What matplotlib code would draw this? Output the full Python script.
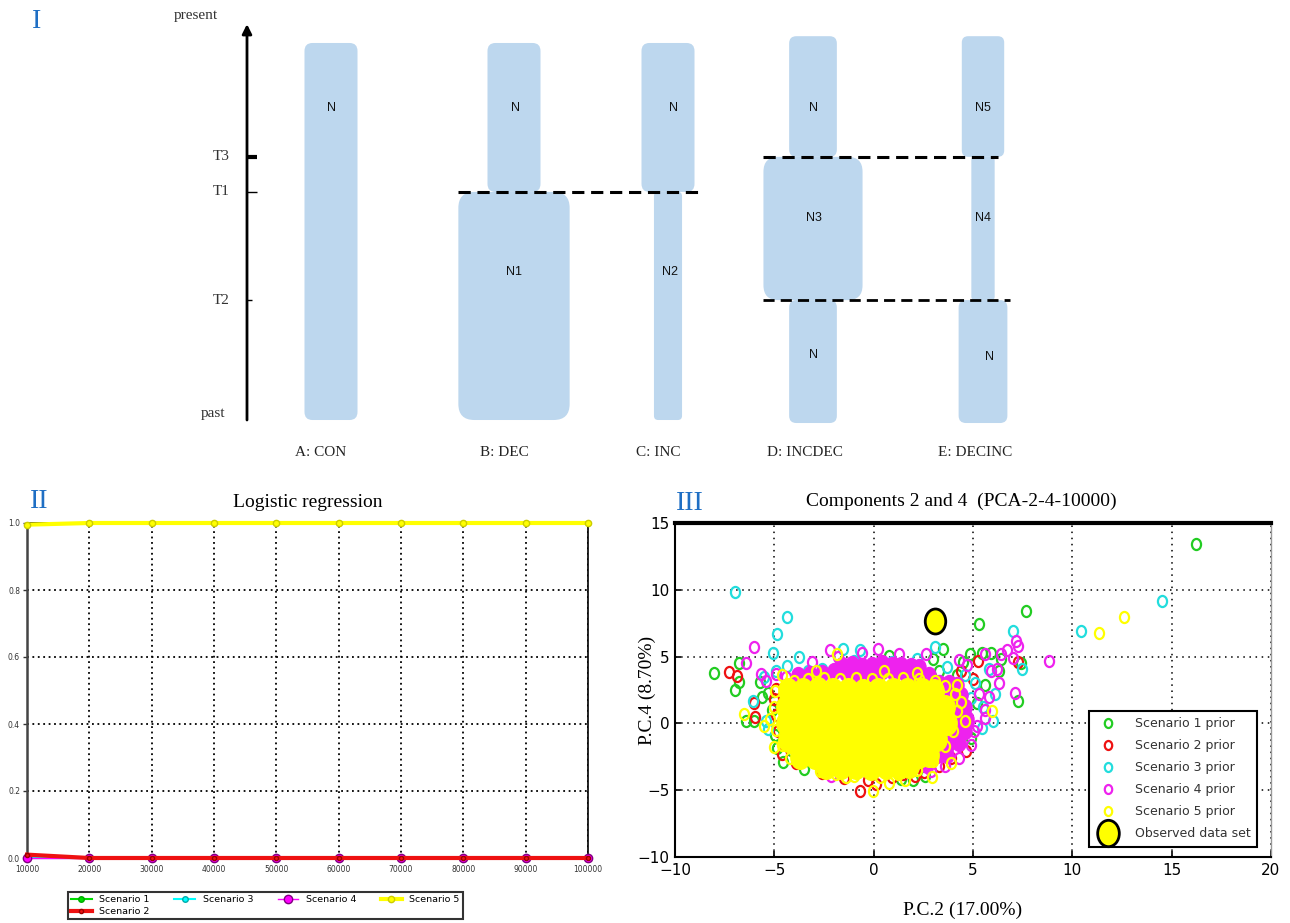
import matplotlib
matplotlib.use('Agg')
import matplotlib.pyplot as plt
from matplotlib.patches import FancyBboxPatch
from matplotlib.path import Path
from matplotlib.transforms import Affine2D
from matplotlib.lines import Line2D

plt.rcParams['font.family'] = ['DejaVu Sans']
SERIF = ['Liberation Serif', 'DejaVu Serif']
ROMAN_BLUE = '#1f6fc4'
BAR_BLUE = '#bdd7ee'

# ---------------- Panel I data (demographic scenarios) ----------------
time_names = ['past', 'T2', 'T1', 'T3', 'present']
time_values = [0.0, 0.318, 0.605, 0.698, 1.0]
scenario_names = ['A: CON', 'B: DEC', 'C: INC', 'D: INCDEC', 'E: DECINC']
seg_bounds = [[0.0, 1.0],
              [0.0, 0.605, 1.0],
              [0.0, 0.605, 1.0],
              [-0.008, 0.318, 0.698, 1.018],
              [-0.008, 0.318, 0.698, 1.018]]
seg_sizes = [[1.0],
             [2.1, 1.0],
             [0.53, 1.0],
             [0.9, 1.87, 0.9],
             [0.92, 0.44, 0.8]]
seg_labels = [['N'],
              ['N1', 'N'],
              ['N2', 'N'],
              ['N', 'N3', 'N'],
              ['N', 'N4', 'N5']]

# ---------------- Panel II data (logistic regression) ----------------
lr_x = [10000, 20000, 30000, 40000, 50000, 60000, 70000, 80000, 90000, 100000]
lr_s1 = [0.0, 0.0, 0.0, 0.0, 0.0, 0.0, 0.0, 0.0, 0.0, 0.0]
lr_s2 = [0.01, 0.0, 0.0, 0.0, 0.0, 0.0, 0.0, 0.0, 0.0, 0.0]
lr_s3 = [0.0, 0.0, 0.0, 0.0, 0.0, 0.0, 0.0, 0.0, 0.0, 0.0]
lr_s4 = [0.0, 0.0, 0.0, 0.0, 0.0, 0.0, 0.0, 0.0, 0.0, 0.0]
lr_s5 = [0.995, 1.0, 1.0, 1.0, 1.0, 1.0, 1.0, 1.0, 1.0, 1.0]
lr_ticks = ['10000', '20000', '30000', '40000', '50000', '60000', '70000', '80000', '90000', '100000']

# ---------------- Panel III data (PCA, components 2 and 4) ----------------
s1_x = [16.2, 7.67, 5.3, -8.06, -7.0, -6.8, -6.76, -6.45, -6.03, -4.56, 7.25, 2.0, 1.4, 4.9, 4.84,
        5.47, 5.9, 6.3, 7.4, 3.5, -4.88, -4.15, -5.7, 0.77, -5.3, -5.1, -4.95, 4.5, 5.6, 6.4, 3.0,
        4.2, 2.6, -3.5, -5.6, 5.2, 3.3]
s1_y = [13.4, 8.4, 7.44, 3.74, 2.5, 3.1, 4.5, 0.19, 0.19, -2.9, 1.69, -4.24, -4.14, -1.07, 5.19,
        5.3, 5.3, 3.94, 4.5, 5.56, -1.82, -2.0, 3.1, 5.07, 2.3, 1.0, -0.9, 4.6, 2.9, 4.8, 4.8,
        3.6, -3.9, -3.4, 2.0, 1.5, 3.9]
s2_x = [-7.28, -6.86, -6.03, -5.96, -0.70, 0.14, 5.26, 4.63, 7.25, -4.35, -3.2, 1.5, 2.54, -4.9,
        -4.8, -4.6, -3.9, -2.6, -1.5, -0.3, 0.9, 2.1, 3.3, 3.9, -5.0, -4.9, 5.0, 4.4]
s2_y = [3.86, 3.56, 1.56, 0.49, -5.07, -4.57, 4.69, -2.07, 4.56, -1.57, -2.69, -3.82, -3.64, 0.6,
        -0.6, -2.3, -3.0, -3.7, -4.1, -4.2, -4.0, -3.9, -3.2, -2.6, 1.8, 2.6, 3.3, 3.9]
s3_x = [-6.97, -4.35, -4.88, -5.09, -3.77, -4.35, -6.09, -5.4, 10.43, 14.52, 7.0, 3.1, -1.53, -0.70,
        6.0, 5.47, -3.31, 7.46, -5.5, -4.9, -2.6, -1.0, 0.9, 2.2, 3.7, 4.6, 5.1, 5.8, 6.1, 5.5,
        4.9, -5.3]
s3_y = [9.87, 8.0, 6.69, 5.3, 4.99, 4.31, 1.69, 0.19, 6.92, 9.19, 6.94, 5.7, 5.57, 5.49,
        0.19, -0.31, 3.94, 4.06, 3.5, 3.9, 4.1, 4.7, 4.6, 4.8, 4.2, 3.6, 3.0, 4.1, 2.2, 1.2,
        1.9, -0.4]
s4_x = [-6.03, -6.45, -5.65, 8.82, 7.14, 7.29, 7.1, -2.2, 0.24, 2.65, 5.58, 6.41, 5.79, 5.58,
        -2.16, 5.05, 6.2, 4.32, -5.4, -4.9, -4.4, -3.1, 5.3, 5.6, 5.2, 4.9, 4.3, 3.6, 2.9, -1.8,
        -0.6, 1.3, 6.3, 5.9, 4.7, 7.0, 6.7]
s4_y = [5.69, 4.49, 3.69, 4.69, 6.19, 5.77, 2.31, 5.49, 5.57, 5.19, 5.19, 5.19, 1.94, 0.44,
        -3.94, -0.57, 4.06, 4.74, 3.2, 3.7, 3.5, 4.6, 2.2, 1.0, -0.2, -1.6, -2.6, -3.2, -3.6, 5.0,
        5.3, 5.2, 3.0, 3.9, 4.4, 4.9, 5.5]
# dense part of the scenario 4 cloud
s4_dense_x = [-1.6, -1.1, -0.6, -0.1, 0.4, 0.9, 1.4, 1.9, 2.3,
              -3.8, -3.2, -2.6, -2.0, -1.4, -0.8, -0.2, 0.4, 1.0, 1.6, 2.2, 2.8,
              3.3, 3.8, 4.2, 3.9, 4.4, 4.1, 4.6, 4.2, 4.7, 4.1, 4.6, 3.8, 4.3, 3.2, 3.7, 2.7]
s4_dense_y = [4.4, 4.45, 4.3, 4.4, 4.5, 4.4, 4.35, 4.3, 4.2,
              3.6, 3.7, 3.8, 3.9, 3.8, 3.7, 3.8, 3.9, 3.8, 3.8, 3.7, 3.6,
              3.0, 3.0, 2.9, 2.1, 2.1, 1.2, 1.2, 0.3, 0.3, -0.6, -0.6, -1.5, -1.5, -2.4, -2.4, -3.1]
s5_x = [11.33, 12.62, -6.55, 0.77, 2.96, -0.03, -1.85, 5.95, -5.2, -5.5, 3.9, 1.6, -1.4, 4.4,
        4.2, -4.6, -2.9, 0.5, 2.2, -5.0, 4.6,
        -4.0, -3.3, -2.5, -1.7, -0.9, -0.1, 0.7, 1.5, 2.3, 3.1, 3.6,
        4.1, 4.2, 4.0, 3.6, 3.0,
        -2.7, -1.9, -1.0, 0.3, 1.2, 2.2,
        -4.95, -5.0, -4.9, -4.6, -4.2]
s5_y = [6.74, 7.94, 0.69, -4.44, -4.02, -5.07, 5.19, 0.94, 0.3, -0.2, -3.0, -4.2, -4.0, 1.6,
        2.9, 3.6, 3.9, 3.9, 3.8, -1.8, 0.2,
        3.2, 3.35, 3.4, 3.3, 3.4, 3.35, 3.3, 3.4, 3.3, 3.2, 2.8,
        2.2, 0.9, -0.6, -1.7, -2.8,
        -3.6, -3.8, -3.9, -4.0, -3.8, -3.5,
        2.4, 1.2, -0.5, -1.6, -2.6]
# dense part of the scenario 5 cloud
s5_dense_x = [-4.3, -3.55, -2.8, -2.05, -1.3, -0.55, 0.2, 0.95, 1.7, 2.45, 3.05,
              -4.4, -3.65, -2.9, -2.15, -1.4, -0.65, 0.1, 0.85, 1.6, 2.35, 3.1, 3.6,
              -4.4, -3.65, -2.9, -2.15, -1.4, -0.65, 0.1, 0.85, 1.6, 2.35, 3.1, 3.7,
              -4.3, -3.55, -2.8, -2.05, -1.3, -0.55, 0.2, 0.95, 1.7, 2.45, 3.2,
              -3.7, -2.95, -2.2, -1.45, -0.7, 0.05, 0.8, 1.55, 2.3, 2.8,
              -2.4, -1.65, -0.9, -0.15, 0.6, 1.3, 1.8]
s5_dense_y = [2.5, 2.5, 2.55, 2.5, 2.5, 2.45, 2.5, 2.5, 2.5, 2.5, 2.4,
              1.25, 1.25, 1.3, 1.25, 1.2, 1.25, 1.25, 1.3, 1.25, 1.25, 1.25, 1.2,
              0.0, 0.0, 0.05, 0.0, -0.05, 0.0, 0.0, 0.0, 0.05, 0.0, 0.0, 0.0,
              -1.25, -1.25, -1.2, -1.25, -1.25, -1.3, -1.25, -1.25, -1.25, -1.2, -1.2,
              -2.5, -2.5, -2.5, -2.55, -2.5, -2.5, -2.5, -2.5, -2.45, -2.4,
              -3.3, -3.3, -3.3, -3.35, -3.3, -3.25, -3.2]
obs_x = [3.11]
obs_y = [7.64]

# =====================================================================
# Panel I
fig = plt.figure(figsize=(12.9, 9.23), dpi=100)
axI = fig.add_axes([0, 1 - 470 / 923, 1, 470 / 923])
axI.set_xlim(0, 1290)
axI.set_ylim(-0.1326, 1.114)
axI.axis('off')

scen_centers = [331, 514, 668, 813, 983]
unit_w = 53
label_t = [[0.828], [0.393, 0.828], [0.393, 0.828], [0.172, 0.536, 0.828], [0.167, 0.536, 0.828]]
label_dx = [[0], [0, 2], [2, 5], [1, 1, 1], [7, 0, 0]]
for ci, cx in enumerate(scen_centers):
    b = seg_bounds[ci]
    for si, size in enumerate(seg_sizes[ci]):
        w = size * unit_w
        t0, t1 = b[si], b[si + 1]
        r = min(0.15 * w, 16)
        p = FancyBboxPatch((cx - w / 2, t0), w, t1 - t0,
                           boxstyle=f"round,pad=0,rounding_size={r}",
                           mutation_aspect=1 / 377, fc=BAR_BLUE, ec='none', zorder=1)
        axI.add_patch(p)
        axI.text(cx + label_dx[ci][si], label_t[ci][si], seg_labels[ci][si], ha='center', va='center',
                 fontsize=9, family=['Liberation Sans'], color='#111', zorder=3)
    axI.text(cx - 10 if ci < 3 else cx - 8, -0.085, scenario_names[ci], ha='center', va='center',
             fontsize=11, family=SERIF, color='#222')

T = dict(zip(time_names, time_values))


def half_width(ci, si):
    return seg_sizes[ci][si] * unit_w / 2


# dashed boundary lines (from the widest adjoining segment on the left to the bar on the right)
axI.plot([scen_centers[1] - half_width(1, 0), scen_centers[2] + half_width(2, 1) + 5], [T['T1']] * 2,
         ls=(0, (4, 2.2)), lw=2.2, color='black', zorder=2)
axI.plot([scen_centers[3] - half_width(3, 1), scen_centers[4] + half_width(4, 2) - 6], [T['T3']] * 2,
         ls=(0, (4, 2.2)), lw=2.2, color='black', zorder=2)
axI.plot([scen_centers[3] - half_width(3, 1), scen_centers[4] + half_width(4, 0) + 3], [T['T2']] * 2,
         ls=(0, (4, 2.2)), lw=2.0, color='black', zorder=2)

# time arrow
axI.annotate('', xy=(247, 1.05), xytext=(247, 0.0),
             arrowprops=dict(arrowstyle='-|>', lw=2, color='black', mutation_scale=14, shrinkA=0, shrinkB=0))
axI.plot([247, 257], [T['T3']] * 2, lw=3, color='black', solid_capstyle='butt')
axI.plot([247, 257], [T['T1']] * 2, lw=1.0, color='black', solid_capstyle='butt')
axI.plot([247, 252], [T['T2']] * 2, lw=1.0, color='black', solid_capstyle='butt')
for name, tx, ty in [('present', 196, 1.072), ('T3', 221, T['T3']), ('T1', 221, T['T1']),
                     ('T2', 221, T['T2']), ('past', 213, 0.018)]:
    axI.text(tx, ty, name, ha='center', va='center', fontsize=11, family=SERIF, color='#333')

fig.text(37 / 1290, 1 - 22 / 923, 'I', color=ROMAN_BLUE, fontsize=20, family=SERIF,
         ha='center', va='center')

# =====================================================================
# Panel II
axII = fig.add_axes([27 / 1290, 1 - 858 / 923, 561 / 1290, 335 / 923])
h1, = axII.plot(lr_x, lr_s1, 'o-', color='#00dd00', lw=1.5, ms=4, mec='#00aa00', zorder=3, clip_on=False)
h3, = axII.plot(lr_x, lr_s3, 'o-', color='cyan', lw=1.5, ms=4, mec='#00aaaa', zorder=3, clip_on=False)
h4, = axII.plot(lr_x, lr_s4, 'o-', color='magenta', lw=1.0, ms=6, mec='#800080', zorder=3, clip_on=False)
h2, = axII.plot(lr_x, lr_s2, 'o-', color='#ee1111', lw=3, ms=3, mec='#990000', zorder=4, clip_on=False)
h5, = axII.plot(lr_x, lr_s5, 'o-', color='#ffff00', lw=3, ms=4.5, mec='#cccc00', zorder=4, clip_on=False)
axII.set_xlim(10000, 100000)
axII.set_ylim(0, 1.0)
axII.set_xticks(lr_x)
axII.set_xticklabels(lr_ticks)
axII.set_yticks([0.0, 0.2, 0.4, 0.6, 0.8, 1.0])
axII.set_yticklabels(['0.0', '0.2', '0.4', '0.6', '0.8', '1.0'])
axII.tick_params(labelsize=5.5, length=3, width=1, colors='#333', pad=2)
axII.grid(True, color='black', linestyle=(0, (1, 2)), lw=1.3)
for s in ['top', 'bottom', 'right']:
    axII.spines[s].set_linewidth(1.2)
    axII.spines[s].set_color('black')
axII.spines['left'].set_linewidth(1.8)
axII.spines['left'].set_color('#444')
axII.text(0.5, 1.035, 'Logistic regression', transform=axII.transAxes, ha='center', va='bottom',
          fontsize=14, family=SERIF)
fig.text(39 / 1290, 1 - 502 / 923, 'II', color=ROMAN_BLUE, fontsize=20, family=SERIF,
         ha='center', va='center')
legII = fig.legend([h1, h2, h3, h4, h5], ['Scenario 1', 'Scenario 2', 'Scenario 3', 'Scenario 4', 'Scenario 5'],
                   ncol=4, loc='upper left', bbox_to_anchor=(63 / 1290, 1 - 887 / 923),
                   fontsize=6.8, frameon=True, fancybox=False, edgecolor='black',
                   handlelength=2.2, columnspacing=2.6, labelspacing=0.3, borderpad=0.35,
                   handletextpad=0.8)
legII.get_frame().set_linewidth(1.5)

# =====================================================================
# Panel III
ell = Path.unit_circle().transformed(Affine2D().scale(0.82, 1.0))
axIII = fig.add_axes([675 / 1290, 1 - 857 / 923, 596 / 1290, 334 / 923])
ring = dict(linestyle='none', marker=ell, ms=8, mfc='none', mew=1.6, zorder=3)
series = [(s1_x, s1_y, '#22cc22'), (s2_x, s2_y, '#ee1111'), (s3_x, s3_y, '#22dddd'),
          (s4_x, s4_y, '#ee22ee'), (s5_x, s5_y, '#ffff00')]
for i, (xs, ys, col) in enumerate(series):
    if i == 3:
        axIII.plot(s4_dense_x, s4_dense_y, linestyle='none', marker=ell, ms=11.5, mfc=col, mec=col,
                   mew=1, zorder=3)
    if i == 4:
        axIII.plot(s5_dense_x, s5_dense_y, linestyle='none', marker=ell, ms=17, mfc=col, mec=col,
                   mew=1, zorder=3)
    axIII.plot(xs, ys, mec=col, **ring)
axIII.plot(obs_x, obs_y, linestyle='none', marker=ell, ms=18, mfc='#ffff00', mec='black', mew=2, zorder=5)

axIII.set_xlim(-10, 20)
axIII.set_ylim(-10, 15)
axIII.set_xticks([-10, -5, 0, 5, 10, 15, 20])
axIII.set_yticks([-10, -5, 0, 5, 10, 15])
axIII.set_xticklabels(['\u221210', '\u22125', '0', '5', '10', '15', '20'])
axIII.set_yticklabels(['\u221210', '\u22125', '0', '5', '10', '15'])
axIII.tick_params(labelsize=11, direction='in', length=4, width=1.2, colors='black', pad=4)
axIII.grid(True, color='black', linestyle=(0, (1, 3)), lw=1.1)
axIII.set_axisbelow(True)
axIII.spines['top'].set_linewidth(3)
axIII.spines['left'].set_linewidth(1.5)
axIII.spines['bottom'].set_linewidth(1.5)
axIII.spines['right'].set_linewidth(1)
axIII.spines['right'].set_color('#999')
axIII.text(0.48, 1.04, 'Components 2 and 4  (PCA-2-4-10000)', transform=axIII.transAxes,
           ha='center', va='bottom', fontsize=14, family=SERIF)
fig.text(963 / 1290, 1 - 910 / 923, 'P.C.2 (17.00%)', ha='center', va='center', fontsize=14, family=SERIF)
fig.text(647 / 1290, 1 - 690 / 923, 'P.C.4 (8.70%)', ha='center', va='center', fontsize=14,
         family=SERIF, rotation=90)
fig.text(690 / 1290, 1 - 503 / 923, 'III', color=ROMAN_BLUE, fontsize=20, family=SERIF,
         ha='center', va='center')

leg_handles = [Line2D([], [], linestyle='none', marker=ell, ms=6.5, mfc='none', mew=1.6, mec=c)
               for _, _, c in series]
leg_handles.append(Line2D([], [], linestyle='none', marker=ell, ms=19, mfc='#ffff00', mec='black', mew=2))
legIII = axIII.legend(leg_handles, ['Scenario 1 prior', 'Scenario 2 prior', 'Scenario 3 prior',
                                    'Scenario 4 prior', 'Scenario 5 prior', 'Observed data set'],
                      loc='lower right', bbox_to_anchor=(0.987, 0.012), fontsize=9,
                      fancybox=False, edgecolor='black', framealpha=1, labelspacing=0.72,
                      handletextpad=1.2, borderpad=0.5)
legIII.get_frame().set_linewidth(1.5)
for t in legIII.get_texts():
    t.set_color('#333')

fig.savefig('out.png', dpi=100)
